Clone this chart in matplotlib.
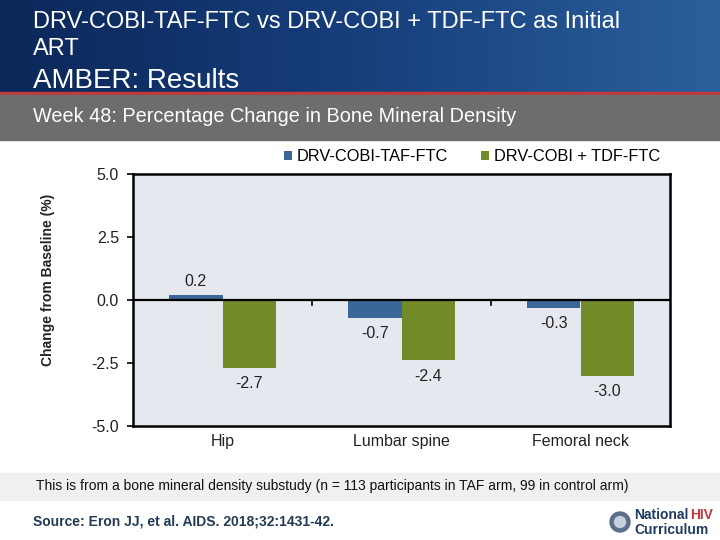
import matplotlib.pyplot as plt
import numpy as np
from matplotlib.patches import Rectangle, Circle

categories = ["Hip", "Lumbar spine", "Femoral neck"]
taf_values = [0.2, -0.7, -0.3]
tdf_values = [-2.7, -2.4, -3.0]
series_names = ["DRV-COBI-TAF-FTC", "DRV-COBI + TDF-FTC"]
y_ticks = [5.0, 2.5, 0.0, -2.5, -5.0]

BLUE = "#3b6798"
GREEN = "#728a27"
TEXT = "#222222"
FONT = "Liberation Sans"

fig = plt.figure(figsize=(7.2, 5.4), dpi=100)
W, H = 720, 540


def px(x0, y0, x1, y1):
    # pixel box (top-left origin) -> figure fraction rect
    return [x0 / W, 1 - y1 / H, (x1 - x0) / W, (y1 - y0) / H]


# header background
bg = fig.add_axes([0, 0, 1, 1], zorder=0)
bg.set_xlim(0, W)
bg.set_ylim(H, 0)
bg.axis("off")
grad = np.linspace(0, 1, 256).reshape(1, -1)
bg.imshow(grad, extent=(0, W, 92, 0), aspect="auto",
          cmap=plt.matplotlib.colors.LinearSegmentedColormap.from_list(
              "hdr", ["#0b2759", "#173f7c", "#2a609c"]))
bg.add_patch(Rectangle((0, 92), W, 3, color="#c0393b"))
bg.add_patch(Rectangle((0, 95), W, 45, color="#6d6d6d"))
bg.add_patch(Rectangle((0, 473), W, 27, color="#f0f0f0"))

bg.text(33, 22, "DRV-COBI-TAF-FTC vs DRV-COBI + TDF-FTC as Initial", color="white",
        fontsize=17, family=FONT, va="center")
bg.text(33, 49, "ART", color="white", fontsize=17, family=FONT, va="center")
bg.text(33, 81, "AMBER: Results", color="white", fontsize=20, family=FONT, va="center")
bg.text(33, 116, "Week 48: Percentage Change in Bone Mineral Density", color="white",
        fontsize=14.3, family=FONT, va="center")
bg.text(36, 486, "This is from a bone mineral density substudy (n = 113 participants in TAF arm, 99 in control arm)",
        color="#111111", fontsize=10, family=FONT, va="center")
bg.text(33, 521, "Source: Eron JJ, et al. AIDS. 2018;32:1431-42.", color="#243b55",
        fontsize=10, family=FONT, weight="bold", va="center")

# logo
bg.add_patch(Circle((620, 522), 10, color="#5b6f8a"))
bg.add_patch(Circle((620, 522), 5.5, color="#c7d0dc"))
bg.text(634, 515, "National", color="#1f3a63", fontsize=10, weight="bold",
        family=FONT, va="center")
bg.text(690, 515, "HIV", color="#c0393b", fontsize=10, weight="bold",
        family=FONT, va="center")
bg.text(634, 530, "Curriculum", color="#1f3a63", fontsize=10, weight="bold",
        family=FONT, va="center")

# chart
ax = fig.add_axes(px(133, 174, 670, 426), zorder=1)
ax.set_facecolor("#e5e9ef")
x = np.arange(len(categories))
bw = 0.3
b1 = ax.bar(x - bw / 2, taf_values, bw, color=BLUE, label=series_names[0])
b2 = ax.bar(x + bw / 2, tdf_values, bw, color=GREEN, label=series_names[1])

for bars, vals in ((b1, taf_values), (b2, tdf_values)):
    for rect, v in zip(bars, vals):
        cx = rect.get_x() + rect.get_width() / 2
        if v >= 0:
            ax.annotate(f"{v:.1f}", (cx, v), xytext=(0, 4), textcoords="offset points",
                        ha="center", va="bottom", fontsize=11.5, color=TEXT, family=FONT)
        else:
            ax.annotate(f"{v:.1f}", (cx, v), xytext=(0, -6), textcoords="offset points",
                        ha="center", va="top", fontsize=11.5, color=TEXT, family=FONT)

ax.set_xlim(-0.5, len(categories) - 0.5)
ax.set_ylim(-5, 5)
ax.set_yticks(y_ticks)
ax.set_yticklabels([f"{t:.1f}" for t in y_ticks], fontsize=11.5, family=FONT, color=TEXT)
ax.tick_params(axis="y", direction="out", length=4, width=1.2, pad=6)
ax.set_xticks(x)
ax.set_xticklabels(categories, fontsize=11.5, family=FONT, color=TEXT)
ax.tick_params(axis="x", length=0, pad=6)
ax.axhline(0, color="black", lw=1.6)
for b in x[:-1] + 0.5:
    ax.plot([b, b], [0, -0.2], color="black", lw=1.2)
for s in ax.spines.values():
    s.set_linewidth(1.8)

fig.text(48 / W, 1 - 280 / H, "Change from Baseline (%)", rotation=90, fontsize=10,
         weight="bold", family=FONT, color=TEXT, ha="center", va="center")

ax.legend(loc="lower right", bbox_to_anchor=(1.0, 1.0), ncol=2, frameon=False,
          handlelength=0.5, handleheight=0.5, handletextpad=0.3, columnspacing=2.0,
          prop={"family": FONT, "size": 11.8}, borderaxespad=0.2)

fig.savefig("out.png", dpi=100)
